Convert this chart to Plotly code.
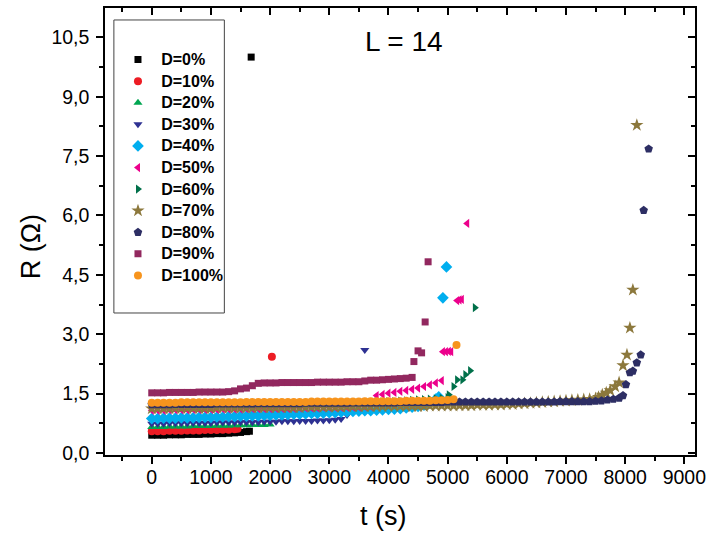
import plotly.graph_objects as go

# ---------------- data ----------------
series_names = ["D=0%", "D=10%", "D=20%", "D=30%", "D=40%", "D=50%",
                "D=60%", "D=70%", "D=80%", "D=90%", "D=100%"]

D0_t = [0, 100, 200, 300, 400, 500, 600, 700, 800, 900, 1000, 1100, 1200, 1300, 1400, 1500, 1600, 1650, 1680]
D0_R = [0.45, 0.45, 0.45, 0.46, 0.46, 0.46, 0.47, 0.47, 0.47, 0.48, 0.48, 0.49, 0.49, 0.50, 0.51, 0.52, 0.54, 0.55, 10.0]

D10_t = [0, 100, 200, 300, 400, 500, 600, 700, 800, 900, 1000, 1100, 1200, 1300, 1400, 1450, 2030]
D10_R = [0.55, 0.55, 0.55, 0.56, 0.56, 0.56, 0.57, 0.57, 0.57, 0.58, 0.58, 0.58, 0.59, 0.59, 0.60, 0.61, 2.43]

D20_t = [0, 100, 200, 300, 400, 500, 600, 700, 800, 900, 1000, 1100, 1200, 1300, 1400, 1500, 1600, 1700, 1800, 1900, 2000]
D20_R = [0.66, 0.66, 0.66, 0.67, 0.67, 0.67, 0.67, 0.68, 0.68, 0.68, 0.68, 0.69, 0.69, 0.69, 0.70, 0.70, 0.70, 0.71, 0.71, 0.71, 0.72]

D30_t = [0, 100, 200, 300, 400, 500, 600, 700, 800, 900, 1000, 1100, 1200, 1300, 1400, 1500, 1600, 1700, 1800, 1900,
         2000, 2100, 2200, 2300, 2400, 2500, 2600, 2700, 2800, 2900, 3000, 3100, 3200, 3300, 3400, 3600]
D30_R = [0.74, 0.74, 0.74, 0.75, 0.75, 0.75, 0.75, 0.76, 0.76, 0.76, 0.76, 0.77, 0.77, 0.77, 0.77, 0.78, 0.78, 0.78, 0.78, 0.79,
         0.79, 0.79, 0.80, 0.80, 0.80, 0.81, 0.81, 0.81, 0.82, 0.82, 0.83, 0.84, 0.86, 0.96, 1.04, 2.60]

D40_t = [0, 100, 200, 300, 400, 500, 600, 700, 800, 900, 1000, 1100, 1200, 1300, 1400, 1500, 1600, 1700, 1800, 1900,
         2000, 2100, 2200, 2300, 2400, 2500, 2600, 2700, 2800, 2900, 3000, 3100, 3200, 3300, 3400, 3500, 3600, 3700, 3800, 3900,
         4000, 4100, 4200, 4300, 4400, 4500, 4600, 4700, 4800, 4850, 4920, 4980]
D40_R = [0.87, 0.87, 0.88, 0.88, 0.88, 0.89, 0.89, 0.89, 0.90, 0.90, 0.90, 0.91, 0.91, 0.92, 0.92, 0.93, 0.93, 0.94, 0.94, 0.95,
         0.95, 0.96, 0.96, 0.97, 0.98, 0.98, 0.99, 1.00, 1.00, 1.01, 1.02, 1.02, 1.03, 1.04, 1.05, 1.06, 1.07, 1.07, 1.08, 1.09,
         1.10, 1.11, 1.12, 1.14, 1.16, 1.18, 1.21, 1.26, 1.36, 1.42, 3.92, 4.70]

D50_t = [0, 100, 200, 300, 400, 500, 600, 700, 800, 900, 1000, 1100, 1200, 1300, 1400, 1500, 1600, 1700, 1800, 1900,
         2000, 2100, 2200, 2300, 2400, 2500, 2600, 2700, 2800, 2900, 3000, 3100, 3200, 3300, 3400, 3500, 3600, 3700,
         3800, 3900, 4000, 4100, 4200, 4300, 4400, 4500, 4600, 4700, 4800, 4900,
         4920, 4970, 5020, 5060, 5160, 5200, 5240, 5330]
D50_R = [1.08, 1.08, 1.08, 1.09, 1.09, 1.09, 1.09, 1.10, 1.10, 1.10, 1.10, 1.10, 1.11, 1.11, 1.11, 1.11, 1.12, 1.12, 1.12, 1.12,
         1.12, 1.13, 1.13, 1.13, 1.13, 1.14, 1.14, 1.14, 1.14, 1.15, 1.15, 1.15, 1.15, 1.16, 1.16, 1.16, 1.17, 1.17,
         1.45, 1.48, 1.51, 1.53, 1.56, 1.58, 1.61, 1.64, 1.68, 1.72, 1.77, 1.83,
         2.56, 2.56, 2.57, 2.56, 3.85, 3.87, 3.88, 5.80]

D60_t = [0, 100, 200, 300, 400, 500, 600, 700, 800, 900, 1000, 1100, 1200, 1300, 1400, 1500, 1600, 1700, 1800, 1900,
         2000, 2100, 2200, 2300, 2400, 2500, 2600, 2700, 2800, 2900, 3000, 3100, 3200, 3300, 3400, 3500, 3600, 3700, 3800, 3900,
         4000, 4100, 4200, 4300, 4400, 4500, 4600, 4700, 4800, 4900, 5000,
         5020, 5100, 5160, 5250, 5300, 5380, 5460]
D60_R = [1.18, 1.18, 1.19, 1.19, 1.19, 1.20, 1.20, 1.20, 1.21, 1.21, 1.21, 1.21, 1.22, 1.22, 1.22, 1.22, 1.23, 1.23, 1.23, 1.23,
         1.24, 1.24, 1.24, 1.24, 1.25, 1.25, 1.25, 1.25, 1.26, 1.26, 1.26, 1.26, 1.27, 1.27, 1.27, 1.28, 1.28, 1.28, 1.29, 1.29,
         1.30, 1.30, 1.31, 1.32, 1.33, 1.34, 1.35, 1.36, 1.37, 1.38, 1.40,
         1.47, 1.68, 1.85, 1.85, 1.98, 2.08, 3.67]

D70_t = [0, 100, 200, 300, 400, 500, 600, 700, 800, 900, 1000, 1100, 1200, 1300, 1400, 1500, 1600, 1700, 1800, 1900,
         2000, 2100, 2200, 2300, 2400, 2500, 2600, 2700, 2800, 2900, 3000, 3100, 3200, 3300, 3400, 3500, 3600, 3700, 3800, 3900,
         4000, 4100, 4200, 4300, 4400, 4500, 4600, 4700, 4800, 4900, 5000, 5100, 5200, 5300, 5400, 5500, 5600, 5700, 5800, 5900,
         6000, 6100, 6200, 6300, 6400, 6500, 6600, 6700, 6800, 6900, 7000, 7100, 7200, 7300, 7400, 7500, 7550,
         7613, 7680, 7747, 7830, 7897, 7963, 8030, 8080, 8130, 8197]
D70_R = [1.12, 1.12, 1.12, 1.12, 1.13, 1.13, 1.13, 1.13, 1.13, 1.13, 1.13, 1.14, 1.14, 1.14, 1.14, 1.14, 1.14, 1.14, 1.15, 1.15,
         1.15, 1.15, 1.15, 1.15, 1.15, 1.15, 1.16, 1.16, 1.16, 1.16, 1.16, 1.16, 1.16, 1.17, 1.17, 1.17, 1.17, 1.17, 1.17, 1.17,
         1.18, 1.18, 1.18, 1.18, 1.18, 1.18, 1.18, 1.19, 1.19, 1.19, 1.19, 1.19, 1.20, 1.20, 1.20, 1.21, 1.21, 1.21, 1.22, 1.22,
         1.23, 1.23, 1.24, 1.25, 1.26, 1.27, 1.28, 1.29, 1.30, 1.31, 1.32, 1.33, 1.34, 1.35, 1.36, 1.38, 1.41,
         1.47, 1.52, 1.58, 1.68, 1.78, 2.21, 2.48, 3.16, 4.12, 8.28]

D80_t = [0, 100, 200, 300, 400, 500, 600, 700, 800, 900, 1000, 1100, 1200, 1300, 1400, 1500, 1600, 1700, 1800, 1900,
         2000, 2100, 2200, 2300, 2400, 2500, 2600, 2700, 2800, 2900, 3000, 3100, 3200, 3300, 3400, 3500, 3600, 3700, 3800, 3900,
         4000, 4100, 4200, 4300, 4400, 4500, 4600, 4700, 4800, 4900, 5000, 5100, 5200, 5300, 5400, 5500, 5600, 5700, 5800, 5900,
         6000, 6100, 6200, 6300, 6400, 6500, 6600, 6700, 6800, 6900, 7000, 7100, 7200, 7300, 7400, 7500, 7600, 7700, 7800, 7900,
         7963, 8013, 8080, 8130, 8197, 8263, 8313, 8397]
D80_R = [1.22, 1.22, 1.22, 1.22, 1.23, 1.23, 1.23, 1.23, 1.23, 1.23, 1.23, 1.24, 1.24, 1.24, 1.24, 1.24, 1.24, 1.24, 1.25, 1.25,
         1.25, 1.25, 1.25, 1.25, 1.25, 1.25, 1.26, 1.26, 1.26, 1.26, 1.26, 1.26, 1.26, 1.26, 1.27, 1.27, 1.27, 1.27, 1.27, 1.27,
         1.27, 1.27, 1.28, 1.28, 1.28, 1.28, 1.28, 1.28, 1.28, 1.28, 1.29, 1.29, 1.29, 1.29, 1.29, 1.29, 1.29, 1.29, 1.29, 1.29,
         1.29, 1.29, 1.29, 1.29, 1.29, 1.29, 1.29, 1.29, 1.29, 1.30, 1.30, 1.30, 1.30, 1.30, 1.30, 1.31, 1.32, 1.34, 1.36, 1.39,
         1.45, 1.73, 2.03, 2.07, 2.28, 2.48, 6.13, 7.68]

D90_t = [0, 100, 200, 300, 400, 500, 600, 700, 800, 900, 1000, 1100, 1200, 1300, 1400, 1500, 1600, 1700, 1800, 1900,
         2000, 2100, 2200, 2300, 2400, 2500, 2600, 2700, 2800, 2900, 3000, 3100, 3200, 3300, 3400, 3500, 3600, 3700, 3800, 3900,
         4000, 4100, 4200, 4300, 4400, 4430, 4500, 4560, 4620, 4670]
D90_R = [1.52, 1.52, 1.52, 1.53, 1.53, 1.53, 1.53, 1.53, 1.54, 1.54, 1.54, 1.54, 1.54, 1.55, 1.57, 1.62, 1.64, 1.70, 1.76, 1.77,
         1.77, 1.77, 1.78, 1.78, 1.78, 1.78, 1.78, 1.78, 1.79, 1.79, 1.79, 1.79, 1.79, 1.80, 1.80, 1.80, 1.82, 1.84, 1.84, 1.85,
         1.86, 1.87, 1.88, 1.89, 1.91, 2.31, 2.58, 2.53, 3.31, 4.83]

D100_t = [0, 100, 200, 300, 400, 500, 600, 700, 800, 900, 1000, 1100, 1200, 1300, 1400, 1500, 1600, 1700, 1800, 1900,
          2000, 2100, 2200, 2300, 2400, 2500, 2600, 2700, 2800, 2900, 3000, 3100, 3200, 3300, 3400, 3500, 3600, 3700, 3800, 3900,
          4000, 4100, 4200, 4300, 4400, 4500, 4600, 4700, 4800, 4900, 5000, 5100, 5150]
D100_R = [1.27, 1.27, 1.27, 1.27, 1.27, 1.28, 1.28, 1.28, 1.28, 1.28, 1.28, 1.28, 1.28, 1.28, 1.28, 1.28, 1.29, 1.29, 1.29, 1.29,
          1.29, 1.29, 1.29, 1.29, 1.29, 1.29, 1.29, 1.30, 1.30, 1.30, 1.30, 1.30, 1.30, 1.30, 1.30, 1.30, 1.31, 1.31, 1.31, 1.31,
          1.31, 1.31, 1.31, 1.32, 1.32, 1.32, 1.32, 1.32, 1.33, 1.33, 1.34, 1.36, 2.73]

x_tick_vals = [0, 1000, 2000, 3000, 4000, 5000, 6000, 7000, 8000, 9000]
y_tick_vals = [0.0, 1.5, 3.0, 4.5, 6.0, 7.5, 9.0, 10.5]
y_tick_text = ["0,0", "1,5", "3,0", "4,5", "6,0", "7,5", "9,0", "10,5"]

# ---------------- styles ----------------
all_t = [D0_t, D10_t, D20_t, D30_t, D40_t, D50_t, D60_t, D70_t, D80_t, D90_t, D100_t]
all_R = [D0_R, D10_R, D20_R, D30_R, D40_R, D50_R, D60_R, D70_R, D80_R, D90_R, D100_R]
colors = ["#000000", "#ED1C24", "#00A651", "#2E3192", "#00AEEF", "#EC008C",
          "#00704A", "#8C783C", "#2D2E64", "#92285F", "#F7941D"]
symbols = ["square", "circle", "triangle-up", "triangle-down", "diamond", "triangle-left",
           "triangle-right", "star", "pentagon", "square", "circle"]
sizes = [7, 8, 8, 8, 9, 8, 8, 10, 9, 7, 8]

FONT = "Liberation Sans, Arial, sans-serif"

fig = go.Figure()
for name, t, r, c, s, z in zip(series_names, all_t, all_R, colors, symbols, sizes):
    label = "<span style='font-size:16px'>\u2009" + name + "</span>"
    fig.add_trace(go.Scatter(x=t, y=r, mode="markers", name=label,
                             marker=dict(color=c, symbol=s, size=z, line=dict(width=0))))

# invisible trace on mirrored axes (top / right frame with inward ticks)
fig.add_trace(go.Scatter(x=[0], y=[0], xaxis="x2", yaxis="y2", mode="markers",
                         marker=dict(opacity=0), showlegend=False, hoverinfo="skip"))

xr = [-790, 9180]
yr = [-0.05, 11.24]
ax_common = dict(showgrid=False, zeroline=False, showline=True, linecolor="black", linewidth=1.5,
                 tickcolor="black", tickwidth=1.5)

fig.update_layout(
    width=714, height=537,
    margin=dict(l=105, r=11, t=8, b=82),
    paper_bgcolor="white", plot_bgcolor="white",
    font=dict(family=FONT, color="black"),
    xaxis=dict(range=xr, tickvals=x_tick_vals, ticks="outside", ticklen=7, ticklabeloverflow="allow",
               ticklabelstandoff=-3,
               tickfont=dict(size=19.5), minor=dict(dtick=500, tick0=0, ticks="outside", ticklen=4,
                                                   tickcolor="black", tickwidth=1.5), **ax_common),
    yaxis=dict(range=yr, tickvals=y_tick_vals, ticktext=y_tick_text, ticks="outside", ticklen=7,
               ticklabelstandoff=3, ticklabeloverflow="allow",
               tickfont=dict(size=19.5), minor=dict(dtick=0.75, tick0=0, ticks="outside", ticklen=4,
                                                   tickcolor="black", tickwidth=1.5), **ax_common),
    xaxis2=dict(range=xr, overlaying="x", side="top", tickvals=x_tick_vals, ticks="inside", ticklen=7,
                showticklabels=False, minor=dict(dtick=500, tick0=0, ticks="inside", ticklen=4,
                                                 tickcolor="black", tickwidth=1.5), **ax_common),
    yaxis2=dict(range=yr, overlaying="y", side="right", tickvals=y_tick_vals, ticks="inside", ticklen=7,
                showticklabels=False, minor=dict(dtick=0.75, tick0=0, ticks="inside", ticklen=4,
                                                 tickcolor="black", tickwidth=1.5), **ax_common),
    showlegend=True,
    legend=dict(x=0.022, y=0.920, xanchor="left", yanchor="top", bgcolor="rgba(0,0,0,0)",
                borderwidth=0, font=dict(family=FONT, size=14.3, weight="bold"),
                tracegroupgap=0, itemsizing="trace"),
    shapes=[dict(type="rect", xref="paper", yref="paper", x0=0.01505, x1=0.2023, y0=0.3177, y1=0.9732,
                 line=dict(color="#444444", width=1), fillcolor="rgba(0,0,0,0)")],
    annotations=[
        dict(text="L = 14", xref="paper", yref="paper", x=0.507, y=0.924, showarrow=False,
             xanchor="center", yanchor="middle", font=dict(size=28)),
        dict(text="t (s)", xref="paper", yref="paper", x=0.4716, y=-0.1365, showarrow=False,
             xanchor="center", yanchor="middle", font=dict(size=27)),
        dict(text="R (Ω)", xref="paper", yref="paper", x=-0.1254, y=0.465, showarrow=False,
             xanchor="center", yanchor="middle", textangle=-90, font=dict(size=27)),
    ],
)

fig.write_html("out.html", config={"displayModeBar": False},
               post_script="document.body.style.margin='0';document.body.style.overflow='hidden';")
